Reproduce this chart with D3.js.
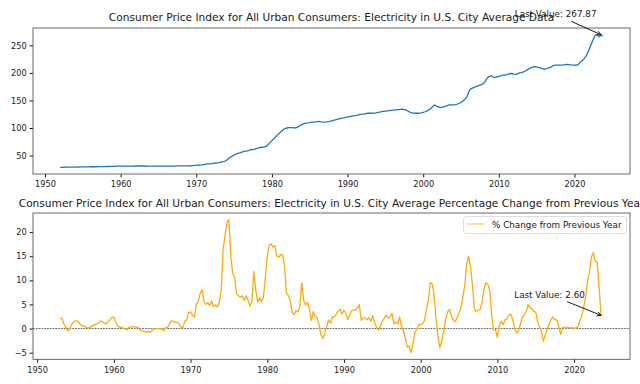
<!DOCTYPE html>
<html>
<head>
<meta charset="utf-8">
<script src="https://cdn.jsdelivr.net/npm/d3@7"></script>
<style>
body { margin: 0; background: #fff; }
svg { display: block; font-family: 'DejaVu Sans', sans-serif; }
</style>
</head>
<body>
<div class="gv-cpi-wrapper"></div>
<script>
// quarterly readings, first one at the start year
const cpiStartYear = 1952
const pctStartYear = 1953
const quarterStep = 0.25

const cpi1950s = [28.5, 28.6, 28.7, 28.8, 28.9, 29.0, 29.0, 29.0, 29.0, 29.1, 29.2, 29.3, 29.4, 29.5, 29.5, 29.5,
  29.6, 29.6, 29.6, 29.6, 29.7, 29.8, 29.8, 29.9, 30.0, 30.1, 30.2, 30.2, 30.3, 30.5, 30.6, 30.7]
const cpi1960s = [30.9, 30.9, 30.9, 30.9, 30.9, 30.9, 30.9, 30.9, 31.0, 31.0, 31.0, 31.0, 31.0, 31.0, 30.9, 30.9,
  30.8, 30.8, 30.7, 30.7, 30.7, 30.7, 30.7, 30.7, 30.7, 30.7, 30.6, 30.7, 30.8, 30.9, 31.1, 31.2,
  31.2, 31.3, 31.3, 31.3, 31.3, 31.4, 31.7, 32.0]
const cpi1970s = [32.4, 32.5, 32.7, 33.0, 33.6, 34.2, 34.8, 35.0, 35.2, 35.8, 36.4, 36.6, 37.0, 37.8, 38.8, 39.5,
  41.5, 44.5, 46.8, 49.0, 51.0, 52.5, 54.0, 55.0, 56.0, 57.3, 57.8, 58.5, 59.5, 61.3, 60.8, 61.5,
  63.0, 64.0, 64.6, 65.0, 65.8, 66.5, 70.0, 73.5]
const cpi1980s = [77.0, 80.5, 84.0, 87.5, 90.5, 94.0, 97.0, 99.0, 100.0, 100.5, 100.8, 100.5, 100.0, 100.5, 102.5, 105.0,
  106.5, 108.0, 108.8, 109.2, 109.8, 110.5, 110.8, 111.2, 111.7, 111.8, 111.0, 110.6, 110.6, 111.0, 111.7, 112.5,
  113.5, 114.3, 115.0, 116.0, 117.0, 117.7, 118.3, 119.3]
const cpi1990s = [120.0, 120.7, 121.3, 122.0, 122.6, 123.2, 124.0, 124.6, 125.0, 125.6, 126.3, 126.8, 126.8, 126.8, 127.0, 127.5,
  128.3, 129.0, 129.8, 130.2, 130.6, 131.0, 131.5, 132.0, 132.5, 132.8, 133.2, 133.5, 133.8, 134.0, 133.5, 132.8,
  130.5, 128.6, 127.5, 126.8, 126.8, 126.8, 126.8, 127.5]
const cpi2000s = [128.3, 129.5, 131.0, 132.8, 135.5, 139.0, 141.9, 139.5, 138.5, 137.0, 137.5, 138.8, 139.5, 141.0, 141.9, 141.9,
  141.9, 142.5, 143.5, 144.9, 146.5, 149.0, 152.0, 156.0, 165.0, 171.0, 172.5, 173.8, 175.0, 176.5, 177.8, 179.0,
  181.0, 186.0, 191.4, 193.5, 195.0, 192.5, 191.8, 193.0]
const cpi2010s = [193.5, 194.8, 195.8, 196.2, 196.8, 197.8, 199.0, 198.5, 197.8, 197.4, 198.6, 200.0, 200.5, 202.0, 203.5, 205.5,
  207.5, 209.5, 210.5, 211.3, 211.0, 210.0, 209.0, 208.0, 207.1, 207.5, 208.5, 209.5, 211.5, 213.5, 214.3, 214.3,
  214.0, 214.3, 214.5, 215.0, 215.5, 215.0, 214.5, 214.3]
const cpi2020s = [214.3, 214.3, 215.5, 219.5, 222.0, 225.5, 230.0, 237.0, 245.0, 253.5, 261.5, 268.5, 269.5, 265.5, 268.0, 267.87]

const pct1950s = [2.1, 2.1, 1.0, 0.3, -0.5, -0.1, 0.9, 1.3, 1.6, 1.6, 1.1, 0.7, 0.5, 0.4, 0.2, 0.1,
  0.4, 0.6, 0.8, 0.9, 1.2, 1.6, 1.4, 1.1, 1.0, 1.4, 1.8, 2.3]
const pct1960s = [2.4, 1.3, 0.6, 0.3, 0.3, 0.1, 0.0, -0.3, 0.3, 0.3, 0.4, 0.3, 0.3, 0.1, -0.4, -0.5,
  -0.6, -0.8, -0.6, -0.8, -0.4, -0.1, 0.0, 0.0, 0.0, -0.1, -0.5, 0.2, 0.3, 0.8, 1.6, 1.5,
  1.3, 1.3, 1.0, 0.3, 0.2, 1.5, 1.8, 3.3]
const pct1970s = [3.4, 2.8, 2.4, 5.0, 5.6, 7.3, 8.0, 5.7, 5.0, 5.4, 4.8, 5.7, 4.6, 4.9, 4.5, 5.4,
  8.0, 16.5, 19.5, 22.0, 22.6, 15.0, 11.4, 10.7, 7.1, 6.8, 6.5, 6.8, 5.8, 6.8, 5.8, 4.6,
  5.8, 11.8, 8.0, 5.5, 6.4, 5.6, 6.5, 10.5]
const pct1980s = [15.0, 17.3, 17.6, 16.9, 17.2, 15.0, 14.8, 15.3, 15.4, 13.0, 7.5, 6.8, 5.8, 3.3, 2.9, 3.7,
  3.5, 4.6, 9.5, 5.8, 4.9, 5.4, 4.0, 1.7, 3.5, 2.5, 2.3, 0.8, -1.3, -2.1, -0.9, 0.4,
  1.8, 1.1, 2.5, 2.4, 3.0, 3.6, 4.0, 3.0]
const pct1990s = [3.8, 3.2, 1.8, 2.8, 3.7, 3.8, 3.9, 4.2, 5.0, 1.7, 2.2, 2.2, 1.8, 2.3, 1.5, 2.6,
  1.3, 0.2, -0.3, 0.5, 1.5, 2.1, 2.8, 2.2, 2.4, 3.2, 1.0, 1.3, 1.0, 2.4, 0.5, -0.5,
  -2.0, -3.9, -3.6, -5.0, -3.0, -0.8, -0.2, 0.9]
const pct2000s = [0.8, 1.0, 1.7, 4.0, 5.8, 9.5, 9.3, 7.0, 2.0, -1.5, -4.0, -2.5, -0.7, 1.9, 3.4, 4.0,
  2.7, 1.8, 1.4, 2.3, 3.2, 4.3, 6.5, 9.0, 13.5, 15.0, 12.8, 9.0, 4.1, 3.5, 3.8, 4.0,
  5.5, 8.2, 9.5, 9.2, 8.0, 2.8, -0.3, -0.2]
const pct2010s = [-1.8, 0.6, 1.5, 0.8, 1.8, 2.0, 2.8, 3.0, 1.8, 0.0, -1.0, -0.5, 0.9, 2.3, 2.8, 3.6,
  5.0, 4.3, 4.2, 3.5, 3.4, 1.4, 0.3, -0.6, -2.6, -1.3, -0.1, 0.9, 1.9, 2.4, 1.8, 1.8,
  0.5, -1.2, 0.2, 0.3, 0.3, 0.2, 0.1, 0.2]
const pct2020s = [0.0, 0.2, 0.3, 1.6, 2.6, 4.4, 6.5, 9.8, 11.7, 14.8, 15.8, 14.0, 13.8, 9.0, 3.0, 2.6]

const yearTicks = [1950, 1960, 1970, 1980, 1990, 2000, 2010, 2020]
const cpiTicks = [50, 100, 150, 200, 250]
const pctTicks = [-5, 0, 5, 10, 15, 20]

const cpiTitle = 'Consumer Price Index for All Urban Consumers: Electricity in U.S. City Average Data'
const pctTitle = 'Consumer Price Index for All Urban Consumers: Electricity in U.S. City Average Percentage Change from Previous Year'
const legendLabel = '% Change from Previous Year'

const cpiValues = [].concat(cpi1950s, cpi1960s, cpi1970s, cpi1980s, cpi1990s, cpi2000s, cpi2010s, cpi2020s)
const pctValues = [].concat(pct1950s, pct1960s, pct1970s, pct1980s, pct1990s, pct2000s, pct2010s, pct2020s)

const width = 640
const height = 384
const left = 33
const right = 630
const textColor = '#1a1a1a'

const svg = d3.select('.gv-cpi-wrapper').append('svg')
.attr('width', width)
.attr('height', height)

// matplotlib style 5% margins
const padded = (arr) => {
	const [a, b] = d3.extent(arr)
	const p = (b - a) * 0.05
	return [a - p, b + p]
}

const drawPanel = (cfg) => {

	const data = cfg.values.map((v, i) => ({ year: cfg.start + i * quarterStep, value: v }))

	const x = d3.scaleLinear()
	.domain(padded(data.map(d => d.year)))
	.range([left, right])

	const y = d3.scaleLinear()
	.domain(padded(cfg.values))
	.range([cfg.bottom, cfg.top])

	const g = svg.append('g')

	g.append('g')
	.attr('transform', `translate(0,${cfg.bottom})`)
	.call(d3.axisBottom(x).tickValues(yearTicks).tickFormat(d3.format('d')).tickSize(3.5).tickPadding(4))
	.call(a => a.select('.domain').remove())
	.attr('font-family', null)
	.attr('font-size', 8.2)
	.attr('color', textColor)

	g.append('g')
	.attr('transform', `translate(${left},0)`)
	.call(d3.axisLeft(y).tickValues(cfg.ticks).tickFormat(d => d < 0 ? '\u2212' + Math.abs(d) : d).tickSize(3.5).tickPadding(2.8))
	.call(a => a.select('.domain').remove())
	.attr('font-family', null)
	.attr('font-size', 8.2)
	.attr('color', textColor)

	if (cfg.zeroLine) {
		g.append('line')
		.attr('x1', left)
		.attr('x2', right)
		.attr('y1', y(0))
		.attr('y2', y(0))
		.attr('stroke', '#000')
		.attr('stroke-width', 0.6)
		.attr('stroke-dasharray', '1.8,1')
	}

	g.append('path')
	.datum(data)
	.attr('d', d3.line().x(d => x(d.year)).y(d => y(d.value)))
	.attr('fill', 'none')
	.attr('stroke', cfg.color)
	.attr('stroke-opacity', cfg.opacity)
	.attr('stroke-width', 1.3)
	.attr('stroke-linejoin', 'round')

	g.append('rect')
	.attr('x', left)
	.attr('y', cfg.top)
	.attr('width', right - left)
	.attr('height', cfg.bottom - cfg.top)
	.attr('fill', 'none')
	.attr('stroke', '#444')
	.attr('stroke-width', 0.8)

	g.append('text')
	.attr('x', (left + right) / 2)
	.attr('y', cfg.titleY)
	.attr('text-anchor', 'middle')
	.attr('font-size', 10.6)
	.attr('fill', textColor)
	.text(cfg.title)

	// last value annotation
	const last = data[data.length - 1]
	const label = g.append('text')
	.attr('x', x(cfg.labelYear))
	.attr('y', y(cfg.labelValue))
	.attr('font-size', 8.8)
	.attr('fill', textColor)
	.text('Last Value: ' + last.value.toFixed(2))

	const box = label.node().getBBox()
	const cx = box.x + box.width / 2
	const cy = box.y + box.height / 2
	const hx = x(last.year)
	const hy = y(last.value)
	const dx = hx - cx
	const dy = hy - cy
	const t0 = Math.min((box.height / 2 + 2) / Math.abs(dy), (box.width / 2 + 2) / Math.abs(dx))
	const len = Math.hypot(dx, dy)
	const t1 = 1 - 2 / len
	const sx = cx + dx * t0
	const sy = cy + dy * t0
	const ex = cx + dx * t1
	const ey = cy + dy * t1
	const ux = dx / len
	const uy = dy / len
	const hl = 4
	const hw = 2

	g.append('path')
	.attr('d', `M${sx},${sy}L${ex},${ey}M${ex - ux * hl - uy * hw},${ey - uy * hl + ux * hw}L${ex},${ey}L${ex - ux * hl + uy * hw},${ey - uy * hl - ux * hw}`)
	.attr('fill', 'none')
	.attr('stroke', '#000')
	.attr('stroke-width', 0.9)

	return g
}

drawPanel({
	values: cpiValues, start: cpiStartYear, top: 28, bottom: 174, ticks: cpiTicks,
	color: '#1f77b4', opacity: 1, title: cpiTitle, titleY: 21,
	labelYear: 2012.1, labelValue: 301
})

const pctPanel = drawPanel({
	values: pctValues, start: pctStartYear, top: 213, bottom: 359.3, ticks: pctTicks,
	color: '#ffa500', opacity: 0.95, title: pctTitle, titleY: 206.5, zeroLine: true,
	labelYear: 2012.2, labelValue: 6.4
})

const legend = pctPanel.append('g')
.attr('transform', 'translate(463.5,216.5)')

legend.append('rect')
.attr('width', 163)
.attr('height', 17)
.attr('rx', 2.5)
.attr('fill', '#fff')
.attr('fill-opacity', 0.8)
.attr('stroke', '#d6d6d6')
.attr('stroke-width', 0.8)

legend.append('line')
.attr('x1', 3.5)
.attr('x2', 21)
.attr('y1', 7.5)
.attr('y2', 7.5)
.attr('stroke', '#ffa500')
.attr('stroke-opacity', 0.5)
.attr('stroke-width', 1.5)

legend.append('text')
.attr('x', 28.5)
.attr('y', 11)
.attr('font-size', 8.8)
.attr('fill', textColor)
.text(legendLabel)
</script>
</body>
</html>
